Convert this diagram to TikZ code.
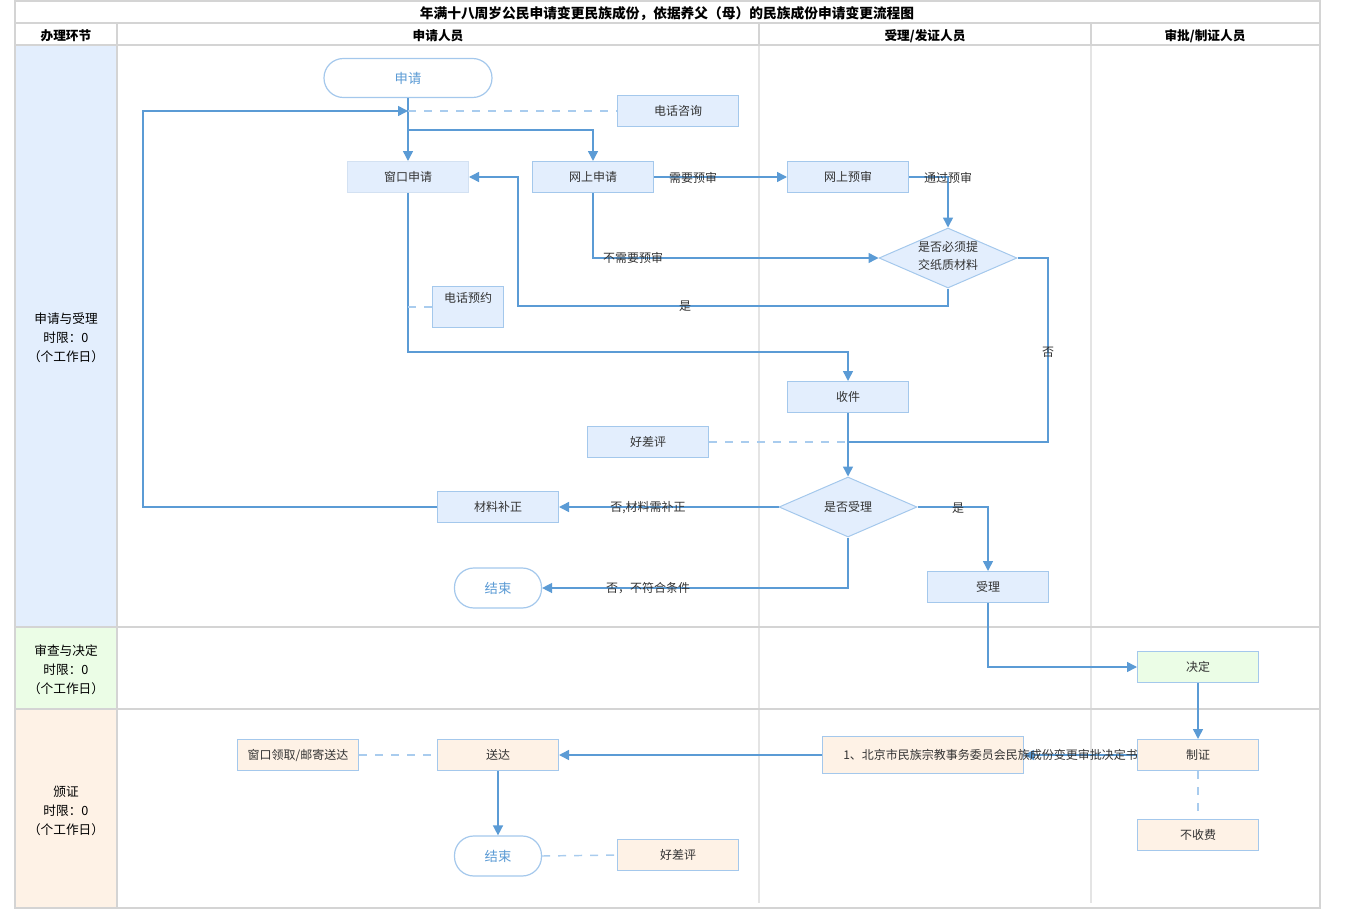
\documentclass[tikz,border=0pt]{standalone}
\usepackage{fontspec}
\setmainfont{Noto Sans CJK SC}
\usetikzlibrary{arrows.meta,shapes.geometric}
\definecolor{lineblue}{HTML}{5B9BD5}
\definecolor{dashblue}{HTML}{A9CCEE}
\definecolor{boxfill}{HTML}{E3EEFD}
\definecolor{boxdraw}{HTML}{A4C8EC}
\definecolor{boxdrawlt}{HTML}{D3E1F2}
\definecolor{greenfill}{HTML}{EBFDE6}
\definecolor{orangefill}{HTML}{FEF2E6}
\definecolor{gridgray}{HTML}{D4D4D4}
\definecolor{gridlt}{HTML}{E4E4E4}
\definecolor{txt}{HTML}{333333}
\begin{document}
\begin{tikzpicture}[x=0.75pt,y=-0.75pt,
  box/.style={draw=boxdraw, fill=boxfill, line width=0.75pt, minimum width=90.75pt, minimum height=23.25pt, inner sep=0pt, font=\fontsize{9}{11}\selectfont, text=txt},
  obox/.style={box, fill=orangefill},
  gbox/.style={box, fill=greenfill},
  term/.style={draw=boxdraw, fill=white, line width=0.9pt, rounded corners=14.5pt, inner sep=0pt, text=lineblue, font=\fontsize{10}{12}\selectfont},
  dec/.style={diamond, draw=boxdraw, fill=boxfill, line width=0.75pt, inner sep=0pt, minimum width=103.5pt, minimum height=45pt, font=\fontsize{9}{11}\selectfont, text=txt, align=center},
  flow/.style={draw=lineblue, line width=1.1pt, -{Triangle[length=7.5pt,width=7.5pt]}},
  seg/.style={draw=lineblue, line width=1.1pt},
  dsh/.style={draw=dashblue, line width=1.1pt, dash pattern=on 6pt off 6pt},
  lbl/.style={font=\fontsize{9}{11}\selectfont, text=txt, inner sep=0pt},
  lane/.style={font=\fontsize{9.5}{14.25}\selectfont, text=black, align=center},
  hdr/.style={font=\bfseries\fontsize{9.5}{11}\selectfont, text=black}
]
\useasboundingbox (0,0) rectangle (1350,910);
% ---- table
\fill[boxfill] (15,45) rectangle (117,627);
\fill[greenfill] (15,627) rectangle (117,709);
\fill[orangefill] (15,709) rectangle (117,908);
\draw[gridlt, line width=1.1pt] (759,45) -- (759,903) (1091,45) -- (1091,903);
\draw[gridgray, line width=1.5pt] (15,1) rectangle (1320,908);
\draw[gridgray, line width=1.5pt] (15,23) -- (1320,23) (15,45) -- (1320,45) (15,627) -- (1320,627) (15,709) -- (1320,709);
\draw[gridgray, line width=1.5pt] (117,23) -- (117,908) (759,23) -- (759,45) (1091,23) -- (1091,45);
\node[hdr, font=\bfseries\fontsize{10.3}{12}\selectfont] (title) at (667,14) {年满十八周岁公民申请变更民族成份，依据养父（母）的民族成份申请变更流程图};
\node[hdr] (h1) at (66,36) {办理环节};
\node[hdr] (h2) at (438,36) {申请人员};
\node[hdr] (h3) at (925,36) {受理/发证人员};
\node[hdr] (h4) at (1205,36) {审批/制证人员};
\node[lane] (l1) at (66,338) {申请与受理\\时限：0\\（个工作日）};
\node[lane] (l2) at (66,670) {审查与决定\\时限：0\\（个工作日）};
\node[lane] (l3) at (66,811) {颁证\\时限：0\\（个工作日）};
% ---- nodes
\node[term, minimum width=126pt, minimum height=29.25pt] (sq) at (408,78) {申请};
\node[box] (zx) at (678,111) {电话咨询};
\node[box, draw=boxdrawlt] (ck) at (408,177) {窗口申请};
\node[box] (ws) at (593,177) {网上申请};
\node[box] (wy) at (848,177) {网上预审};
\node[dec] (d1) at (948,258) {};
\node[lbl, align=center, font=\fontsize{9}{13.5}\selectfont] (d1t) at (948,256) {是否必须提\\交纸质材料};
\node[box, minimum width=53.25pt, minimum height=30.75pt] (dy) at (468,307) {};
\node[lbl] (dyt) at (468,298) {电话预约};
\node[box] (sj) at (848,397) {收件};
\node[box] (hp1) at (648,442) {好差评};
\node[dec] (d2) at (848,507) {是否受理};
\node[box] (bz) at (498,507) {材料补正};
\node[term, minimum width=65.25pt, minimum height=30pt] (js1) at (498,588) {结束};
\node[box] (sl) at (988,587) {受理};
\node[gbox] (jd) at (1198,667) {决定};
\node[obox] (zz) at (1198,755) {制证};
\node[obox] (bsf) at (1198,835) {不收费};
\node[obox, minimum width=150.75pt, minimum height=27.75pt] (bj) at (923,755) {};
\node[obox] (sd) at (498,755) {送达};
\node[obox] (lq) at (298,755) {窗口领取/邮寄送达};
\node[term, minimum width=65.25pt, minimum height=30pt] (js2) at (498,856) {结束};
\node[obox] (hp2) at (678,855) {好差评};
% ---- helper coordinates
\coordinate (j0) at (408,111);
\coordinate (j1) at (408,130);
\coordinate (lp) at (143,507);
\coordinate (c2) at (518,306);
\coordinate (c3) at (1048,442);
\coordinate (c4) at (848,442);
\coordinate (c5) at (408,352);
\coordinate (c6) at (408,307);
% ---- connectors
\draw[flow] (sq.south) -- (ck.north);
\draw[flow] (j1) -| (ws.north);
\draw[dsh] (j0) -- (zx.west);
\draw[flow] (bz.west) -- (lp) |- (j0);
\draw[flow] (ws.east) -- (wy.west);
\draw[flow] (wy.east) -| (d1.north);
\draw[flow] (ws.south) |- (d1.west);
\draw[flow] (d1.south) |- (c2) |- (ck.east);
\draw[seg] (d1.east) -| (c3) -- (c4);
\draw[flow] (ck.south) -- (c5) -| (sj.north);
\draw[dsh] (c6) -- (dy.west);
\draw[flow] (sj.south) -- (d2.north);
\draw[dsh] (hp1.east) -- (c4);
\draw[flow] (d2.west) -- (bz.east);
\draw[flow] (d2.south) |- (js1.east);
\draw[flow] (d2.east) -| (sl.north);
\draw[flow] (sl.south) |- (jd.west);
\draw[flow] (jd.south) -- (zz.north);
\draw[flow] (zz.west) -- (bj.east);
\draw[flow] (bj.west) -- (sd.east);
\draw[dsh] (lq.east) -- (sd.west);
\draw[flow] (sd.south) -- (js2.north);
\draw[dsh] (js2.east) -- (hp2.west);
\draw[dsh] (zz.south) -- (bsf.north);
% ---- connector labels
\node[lbl] (t1) at (693,178) {需要预审};
\node[lbl] (t2) at (948,178) {通过预审};
\node[lbl] (t3) at (633,258) {不需要预审};
\node[lbl] (t4) at (685,306) {是};
\node[lbl] (t5) at (1048,352) {否};
\node[lbl] (t6) at (648,508) {否,材料需补正};
\node[lbl] (t7) at (648,588) {否，不符合条件};
\node[lbl] (t8) at (958,508) {是};
\node[lbl, anchor=west] (bjt) at (843,755) {1、北京市民族宗教事务委员会民族成份变更审批决定书};
\end{tikzpicture}
\end{document}
